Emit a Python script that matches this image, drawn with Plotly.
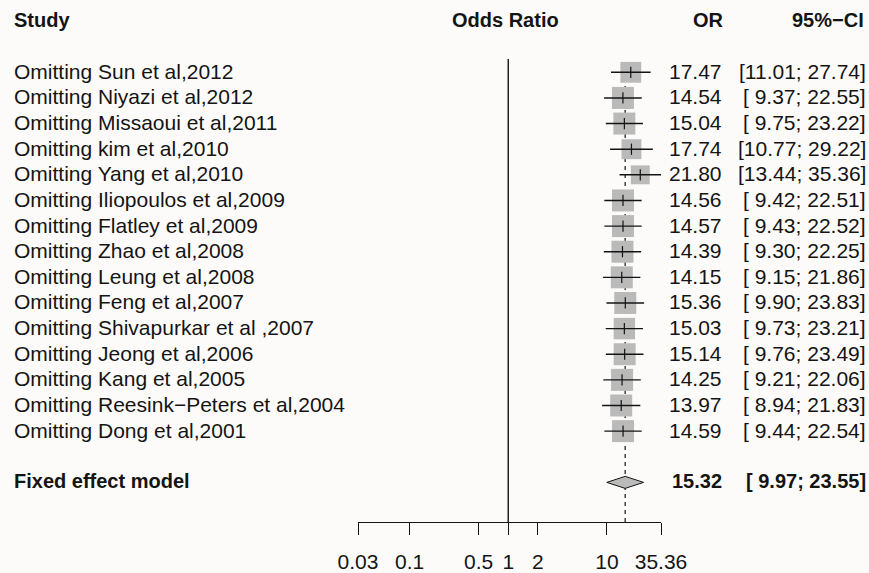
import math
import plotly.graph_objects as go

# ---------------- data ----------------
studies = [
    "Omitting Sun et al,2012",
    "Omitting Niyazi et al,2012",
    "Omitting Missaoui et al,2011",
    "Omitting kim et al,2010",
    "Omitting Yang et al,2010",
    "Omitting Iliopoulos et al,2009",
    "Omitting Flatley et al,2009",
    "Omitting Zhao et al,2008",
    "Omitting Leung et al,2008",
    "Omitting Feng et al,2007",
    "Omitting Shivapurkar et al ,2007",
    "Omitting Jeong et al,2006",
    "Omitting Kang et al,2005",
    "Omitting Reesink\u2212Peters et al,2004",
    "Omitting Dong et al,2001",
]
or_vals = [17.47, 14.54, 15.04, 17.74, 21.80, 14.56, 14.57, 14.39, 14.15, 15.36, 15.03, 15.14, 14.25, 13.97, 14.59]
ci_low = [11.01, 9.37, 9.75, 10.77, 13.44, 9.42, 9.43, 9.30, 9.15, 9.90, 9.73, 9.76, 9.21, 8.94, 9.44]
ci_high = [27.74, 22.55, 23.22, 29.22, 35.36, 22.51, 22.52, 22.25, 21.86, 23.83, 23.21, 23.49, 22.06, 21.83, 22.54]
# relative weights (box area)
weights = [0.90, 1.0, 1.0, 0.82, 0.74, 1.0, 1.0, 1.0, 1.0, 1.0, 0.95, 1.0, 1.0, 1.0, 1.0]

fixed_label = "Fixed effect model"
fixed_or, fixed_low, fixed_high = 15.32, 9.97, 23.55

tick_vals = [0.03, 0.1, 0.5, 1, 2, 10, 35.36]
tick_text = ["0.03", "0.1", "0.5", "1", "2", "10", "35.36"]

# ---------------- styling ----------------
BG = "#fdfbfa"
TXT = "#141414"
BOX = "#bababa"
FONT = "Liberation Sans, Arial, sans-serif"
FS = 21
FSH = 20

W, H = 869, 573
ML, MR, MT, MB = 358, 208, 59, 51
PW = W - ML - MR
PH = H - MT - MB
ROW_PX = 25.63
ROW0_PX = 72.3

y_top = -(ROW0_PX - MT) / ROW_PX
y_bot = y_top + PH / ROW_PX

rows = list(range(len(studies)))
fixed_row = len(studies) + 1


def px2paper_x(px):
    return (px - ML) / PW


def px2paper_y(py):
    return (H - MB - py) / PH


def ci_str(lo, hi):
    return "[%s; %s]" % (("%5.2f" % lo).replace(" ", "\u00a0"), "%5.2f" % hi)


fig = go.Figure()

# squares (drawn first so the CI lines run across them)
fig.add_trace(go.Scatter(x=or_vals, y=rows, mode="markers",
                         marker=dict(symbol="square", color=BOX, opacity=1,
                                     size=[22 * math.sqrt(w) for w in weights],
                                     line=dict(width=0)),
                         showlegend=False, cliponaxis=False))

# confidence interval lines
xs, ys = [], []
for r, lo, hi in zip(rows, ci_low, ci_high):
    xs += [lo, hi, None]
    ys += [r, r, None]
fig.add_trace(go.Scatter(x=xs, y=ys, mode="lines",
                         line=dict(color=TXT, width=1.4),
                         hoverinfo="skip", showlegend=False, cliponaxis=False))

# point estimate ticks
fig.add_trace(go.Scatter(x=or_vals, y=rows, mode="markers",
                         marker=dict(symbol="line-ns", size=8,
                                     line=dict(color=TXT, width=1.2)),
                         hoverinfo="skip", showlegend=False, cliponaxis=False))

# diamond
dh = 6 / ROW_PX
fig.add_trace(go.Scatter(
    x=[fixed_low, fixed_or, fixed_high, fixed_or, fixed_low],
    y=[fixed_row, fixed_row - dh, fixed_row, fixed_row + dh, fixed_row],
    mode="lines", fill="toself", fillcolor=BOX,
    line=dict(color=TXT, width=1), showlegend=False, hoverinfo="skip"))

shapes = [
    dict(type="line", xref="x", yref="paper", x0=1, x1=1, y0=0, y1=1,
         line=dict(color=TXT, width=1.4), layer="below"),
    dict(type="line", xref="x", yref="paper", x0=fixed_or, x1=fixed_or, y0=0, y1=1,
         line=dict(color=TXT, width=1.2, dash="4px,4px"), layer="below"),
]

ann = []


def add_text(text, xpx, y, anchor, bold=False, yref="y", yshift=1, size=FS):
    ann.append(dict(text=("<b>%s</b>" % text) if bold else text,
                    x=px2paper_x(xpx), xref="paper", y=y, yref=yref,
                    xanchor=anchor, yanchor="middle", showarrow=False,
                    yshift=yshift,
                    font=dict(family=FONT, size=size, color=TXT)))


# headers
hy = px2paper_y(20)
add_text("Study", 12, hy, "left", bold=True, yref="paper", yshift=0, size=FSH)
add_text("Odds Ratio", 505, hy, "center", bold=True, yref="paper", yshift=0, size=FSH)
add_text("OR", 726, hy, "right", bold=True, yref="paper", yshift=0, size=FSH)
add_text("95%\u2212CI", 866, hy, "right", bold=True, yref="paper", yshift=0, size=FSH)

for r, s, o, lo, hi in zip(rows, studies, or_vals, ci_low, ci_high):
    add_text(s, 12, r, "left")
    add_text("%.2f" % o, 724, r, "right")
    add_text(ci_str(lo, hi), 868, r, "right")

add_text(fixed_label, 12, fixed_row, "left", bold=True, size=FSH)
add_text("%.2f" % fixed_or, 724, fixed_row, "right", bold=True, size=FSH)
add_text(ci_str(fixed_low, fixed_high), 868, fixed_row, "right", bold=True, size=FSH)

fig.update_layout(
    width=W, height=H,
    margin=dict(l=ML, r=MR, t=MT, b=MB, pad=0),
    paper_bgcolor=BG, plot_bgcolor=BG,
    shapes=shapes, annotations=ann,
    showlegend=False,
    font=dict(family=FONT, size=FS, color=TXT),
    xaxis=dict(type="log",
               range=[math.log10(tick_vals[0]), math.log10(tick_vals[-1])],
               tickvals=tick_vals, ticktext=tick_text,
               showline=True, linecolor=TXT, linewidth=1.3,
               ticks="outside", ticklen=12, tickwidth=1.3, tickcolor=TXT,
               showgrid=False, zeroline=False, automargin=False,
               tickfont=dict(family=FONT, size=FS, color=TXT),
               ticklabelstandoff=9, fixedrange=True),
    yaxis=dict(visible=False, range=[y_bot, y_top], fixedrange=True,
               automargin=False),
)

fig.write_html("out.html")
